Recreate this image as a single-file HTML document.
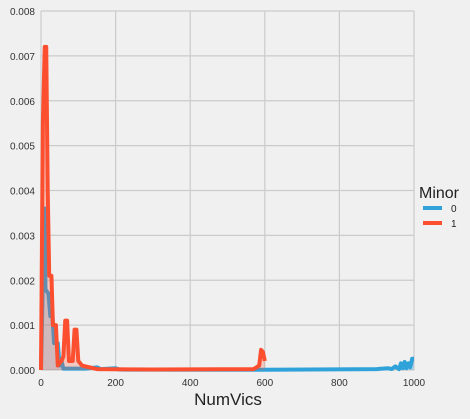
<!DOCTYPE html>
<html><head><meta charset="utf-8"><style>
body{margin:0;background:#f0f0f0;font-family:"Liberation Sans",sans-serif}
svg text{font-family:"Liberation Sans",sans-serif}
</style></head><body>
<svg id="c" width="470" height="414">
<rect width="470" height="414" fill="#f0f0f0"/>
<g id="grid"></g><g id="marks"></g><g id="axes"></g>
<text x="228" y="405" font-size="17" fill="#222" text-anchor="middle">NumVics</text>
<g>
<text x="419" y="198" font-size="16" fill="#222">Minor</text>
<g><line x1="423" y1="208" x2="442" y2="208" stroke="#30a2da" stroke-width="4"/><text x="451" y="212" font-size="10" fill="#222">0</text></g>
<g><line x1="423" y1="223" x2="442" y2="223" stroke="#fc4f30" stroke-width="4"/><text x="451" y="227" font-size="10" fill="#222">1</text></g>
</g>
</svg>
<script>
const xTicks=[0,200,400,600,800,1000];
const yTicks=[0,0.001,0.002,0.003,0.004,0.005,0.006,0.007,0.008];
const x0=[0,5,10,12,20,25,30,35,45,50,55,60,120,150,160,200,210,600,900,930,940,950,960,965,970,975,980,985,990,995,1000];
const y0=[0,0.002,0.0036,0.0018,0.0017,0.0012,0.0013,0.0006,0.0006,0.0001,0.0002,0.00003,0.00003,0.00006,0.00002,0.00004,0.00001,0.000005,0.00002,0.00004,0.00002,0.00008,0.00002,0.00015,0.00004,0.00018,0.00004,0.00015,0.00006,0.00025,0.00025];
const x1=[0,5,10,14,18,22,28,32,40,45,55,60,65,70,75,85,90,95,100,110,150,300,570,585,590,595,600];
const y1=[0,0.0055,0.0072,0.0072,0.004,0.0021,0.0021,0.001,0.001,0.0001,0.0002,0.0003,0.0011,0.0011,0.0002,0.0002,0.0009,0.0009,0.0002,0.0001,0.00002,0.00001,0.00002,0.0001,0.00045,0.0004,0.0002];
const X=v=>41+v*(414-41)/1000, Y=v=>370-v*(370-11)/0.008;
const NS='http://www.w3.org/2000/svg';
function mk(t,a,p){const e=document.createElementNS(NS,t);for(const k in a)e.setAttribute(k,a[k]);p.appendChild(e);return e;}
const grid=document.getElementById('grid'),axes=document.getElementById('axes'),marks=document.getElementById('marks');
xTicks.forEach(t=>{const l=mk('line',{x1:X(t),x2:X(t),y1:11,y2:370,stroke:'#cbcbcb','stroke-width':1.2},grid);


const s=mk('text',{x:X(t),y:386,'font-size':10,fill:'#333','text-anchor':'middle'},axes);s.textContent=t;

});
yTicks.forEach(t=>{const l=mk('line',{x1:41,x2:414,y1:Y(t),y2:Y(t),stroke:'#cbcbcb','stroke-width':1.2},grid);


const s=mk('text',{x:35,y:Y(t)+4,'font-size':10,fill:'#333','text-anchor':'end'},axes);s.textContent=t.toFixed(3);

});
function series(xs,ys,col,name){
 let d=xs.map((v,i)=>(i?'L':'M')+X(v)+','+Y(ys[i])).join('');
 const f=mk('path',{d:d+'L'+X(xs[xs.length-1])+','+Y(0)+'L'+X(xs[0])+','+Y(0)+'Z',fill:col,'fill-opacity':0.25},marks);
 
 
 const p=mk('path',{d:d,fill:'none',stroke:col,'stroke-width':4,'stroke-linejoin':'round'},marks);
 
 
}
series(x0,y0,'#30a2da','series-0');
series(x1,y1,'#fc4f30','series-1');
</script>
</body></html>
